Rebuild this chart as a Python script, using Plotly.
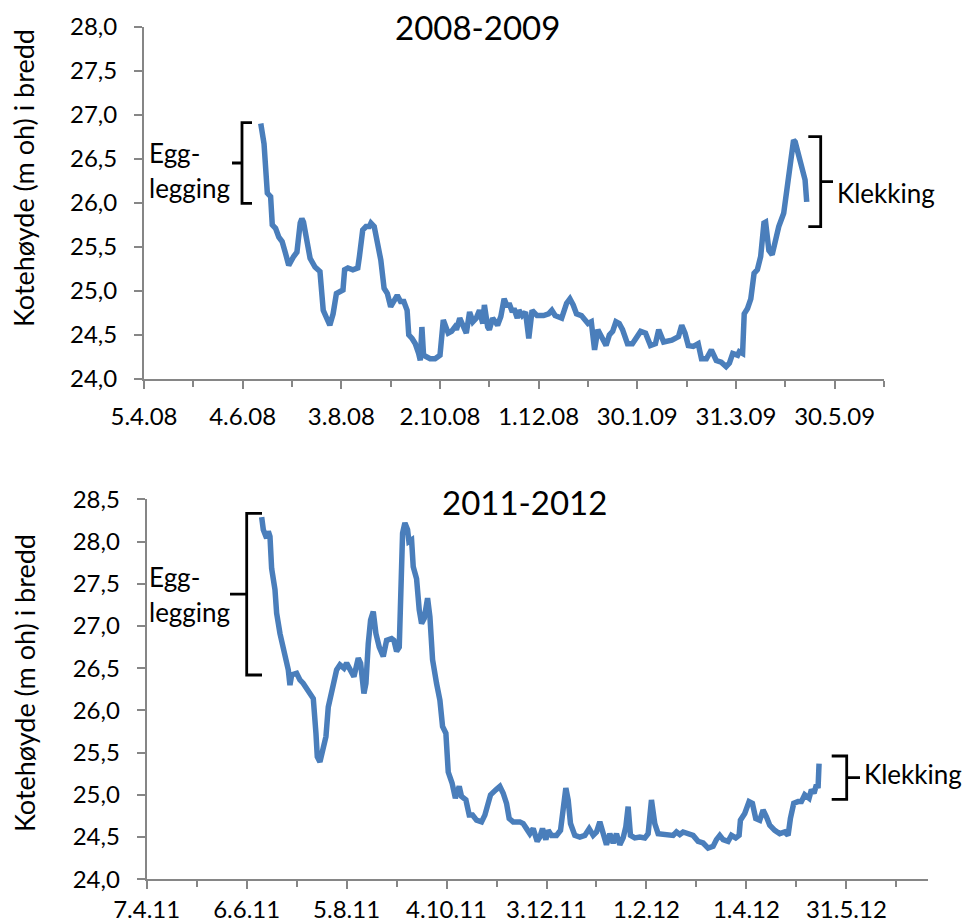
import pandas as pd
import plotly.graph_objects as go
from datetime import datetime, timedelta

# ---------------- data ----------------
start_0809 = "2008-04-05"
# days after 5.4.2008
days_0809 = [71, 73, 75, 77, 78, 80, 82, 84, 86, 88, 91, 93, 95, 96, 97, 99, 101, 104, 107, 109,
             111, 113, 115, 117, 119, 121, 122, 124, 127, 130, 131, 133, 135, 137, 138, 140, 142, 144,
             146, 148, 150, 152, 154, 156, 158, 160, 161, 163, 165, 167, 168, 169, 170, 174, 177, 180,
             182, 185, 187, 189, 190, 192, 196, 198, 200, 202, 204, 206, 207, 209, 210, 212, 215, 217,
             219, 221, 222, 224, 225, 227, 228, 230, 232, 234, 236, 239, 243, 246, 248, 250, 254, 257,
             259, 261, 263, 266, 268, 270, 272, 274, 276, 278, 281, 283, 285, 287, 289, 291, 294, 297,
             302, 305, 308, 311, 313, 316, 321, 325, 327, 329, 331, 334, 337, 339, 342, 345, 348, 351,
             354, 356, 358, 361, 362, 364, 365, 367, 369, 371, 373, 375, 377, 378, 380, 382, 384, 386,
             389, 390, 392, 395, 396, 398, 400, 402, 403]
level_0809 = [26.90, 26.67, 26.11, 26.07, 25.75, 25.71, 25.61, 25.56, 25.43, 25.29, 25.39, 25.44, 25.77,
              25.82, 25.78, 25.54, 25.37, 25.27, 25.22, 24.78, 24.69, 24.61, 24.74, 24.97, 24.99, 25.01,
              25.24, 25.26, 25.24, 25.26, 25.39, 25.69, 25.73, 25.73, 25.77, 25.73, 25.54, 25.35, 25.03,
              24.97, 24.82, 24.90, 24.95, 24.88, 24.88, 24.78, 24.50, 24.46, 24.40, 24.29, 24.21, 24.59,
              24.27, 24.23, 24.23, 24.27, 24.67, 24.52, 24.54, 24.59, 24.56, 24.69, 24.52, 24.76, 24.65,
              24.69, 24.78, 24.63, 24.84, 24.59, 24.56, 24.69, 24.61, 24.71, 24.91, 24.82, 24.86, 24.76,
              24.80, 24.69, 24.78, 24.72, 24.76, 24.46, 24.78, 24.72, 24.72, 24.74, 24.78, 24.72, 24.69,
              24.86, 24.91, 24.84, 24.74, 24.72, 24.67, 24.63, 24.65, 24.33, 24.56, 24.48, 24.38, 24.50,
              24.54, 24.65, 24.63, 24.56, 24.40, 24.40, 24.54, 24.52, 24.38, 24.40, 24.56, 24.42, 24.44,
              24.48, 24.61, 24.52, 24.38, 24.37, 24.40, 24.23, 24.23, 24.33, 24.21, 24.19, 24.14, 24.18,
              24.29, 24.27, 24.31, 24.29, 24.74, 24.80, 24.91, 25.20, 25.24, 25.39, 25.77, 25.78, 25.46,
              25.41, 25.61, 25.73, 25.88, 26.03, 26.33, 26.71, 26.69, 26.54, 26.45, 26.26, 26.01]

start_1112 = "2011-04-07"
# days after 7.4.2011
days_1112 = [69, 70, 72, 73, 74, 75, 77, 78, 80, 82, 83, 85, 86, 87, 90, 92, 94, 96, 98, 100, 101.6,
             102.4, 104, 106, 107.6, 109, 110, 112, 114, 116, 118.4, 120, 122, 124.4, 127, 128.4, 130.4,
             131.6, 133, 134.4, 136, 137.6, 139.6, 142, 144, 147, 148.4, 150, 151.6, 153, 153.6, 155,
             156.6, 157.4, 159, 160, 162, 163.6, 165, 166.6, 168.6, 170, 171.6, 174, 176, 177.6, 179.6,
             181, 183.3, 185.3, 187.6, 189, 191.6, 193.6, 195.6, 198, 201, 203, 205, 206.4, 209.6, 212,
             214, 216, 217.6, 220, 224, 226, 228, 230, 232, 234.4, 236, 237.6, 239.6, 241, 243, 246,
             248.4, 250, 251.6, 253, 254.4, 257, 260, 263, 265.6, 268, 270, 272, 274, 276, 278, 280,
             282, 284, 286, 287.6, 289, 290.4, 293, 296, 299, 301, 303, 305, 307, 312, 316, 318, 320,
             322, 325, 328, 331, 334, 337, 340, 342, 344, 346, 349, 351, 353.6, 355.6, 356.4, 359,
             361.6, 363.6, 365.6, 368, 370, 372, 374, 377, 380, 383, 385, 386.4, 388.4, 391, 393, 395,
             397.6, 399, 400.6, 402, 403, 403.6]
level_1112 = [28.29, 28.14, 28.04, 28.12, 28.06, 27.68, 27.43, 27.15, 26.91, 26.75, 26.64, 26.48, 26.30,
              26.42, 26.44, 26.36, 26.32, 26.26, 26.22, 26.14, 25.73, 25.45, 25.39, 25.53, 25.69, 26.04,
              26.12, 26.32, 26.48, 26.54, 26.50, 26.56, 26.50, 26.40, 26.62, 26.56, 26.20, 26.32, 26.79,
              27.07, 27.17, 26.91, 26.75, 26.64, 26.83, 26.85, 26.83, 26.70, 26.75, 27.43, 28.10, 28.22,
              28.14, 28.00, 28.02, 27.70, 27.56, 27.19, 27.03, 27.09, 27.33, 27.11, 26.60, 26.32, 26.12,
              25.81, 25.73, 25.27, 25.14, 24.96, 25.10, 24.98, 24.94, 24.76, 24.76, 24.70, 24.68, 24.76,
              24.88, 25.00, 25.06, 25.10, 25.02, 24.90, 24.72, 24.68, 24.68, 24.66, 24.60, 24.54, 24.60,
              24.45, 24.50, 24.60, 24.47, 24.58, 24.52, 24.52, 24.58, 24.78, 25.08, 24.94, 24.66, 24.52,
              24.50, 24.52, 24.60, 24.52, 24.56, 24.68, 24.54, 24.41, 24.54, 24.43, 24.54, 24.41, 24.49,
              24.62, 24.86, 24.52, 24.49, 24.50, 24.49, 24.54, 24.94, 24.66, 24.54, 24.52, 24.52, 24.56,
              24.53, 24.56, 24.54, 24.52, 24.45, 24.43, 24.37, 24.39, 24.47, 24.52, 24.47, 24.45, 24.52,
              24.49, 24.52, 24.70, 24.78, 24.92, 24.90, 24.72, 24.70, 24.82, 24.74, 24.64, 24.58, 24.54,
              24.56, 24.52, 24.72, 24.90, 24.92, 24.92, 25.00, 24.96, 25.06, 25.02, 25.12, 25.08, 25.37]

xticks_0809 = ["5.4.08", "4.6.08", "3.8.08", "2.10.08", "1.12.08", "30.1.09", "31.3.09", "30.5.09"]
xticks_1112 = ["7.4.11", "6.6.11", "5.8.11", "4.10.11", "3.12.11", "1.2.12", "1.4.12", "31.5.12"]
yticks_0809 = [24.0, 24.5, 25.0, 25.5, 26.0, 26.5, 27.0, 27.5, 28.0]
yticks_1112 = [24.0, 24.5, 25.0, 25.5, 26.0, 26.5, 27.0, 27.5, 28.0, 28.5]

titles = ["2008-2009", "2011-2012"]
ytitle = "Kotehøyde (m oh) i bredd"

# ---------------- layout helpers ----------------
W, H = 966, 924
FONT = "Lato"
LINE = "#4A7EBB"
AXC = "#868686"


def px(x, y):
    return x / W, 1 - y / H


def to_dates(start, days):
    return pd.to_datetime(start) + pd.to_timedelta(days, unit="D")


def label_dates(labels):
    return [datetime.strptime(s, "%d.%m.%y") for s in labels]


fig = go.Figure()
fig.add_trace(go.Scatter(x=to_dates(start_0809, days_0809), y=level_0809, mode="lines",
                         line=dict(color=LINE, width=5.5), xaxis="x", yaxis="y", showlegend=False))
fig.add_trace(go.Scatter(x=to_dates(start_1112, days_1112), y=level_1112, mode="lines",
                         line=dict(color=LINE, width=5.5), xaxis="x2", yaxis="y2", showlegend=False))


def xaxis(labels, rng_end, dom, anchor, standoff):
    major = label_dates(labels)
    minor = [d + timedelta(days=30) for d in major]
    return dict(domain=dom, anchor=anchor, type="date", automargin=False,
                range=[major[0], rng_end],
                tickmode="array", tickvals=major, ticktext=labels,
                ticks="outside", ticklen=8, tickwidth=2, tickcolor=AXC,
                minor=dict(tickvals=minor, ticks="outside", ticklen=6, tickwidth=2, tickcolor=AXC),
                showline=True, linecolor=AXC, linewidth=2, showgrid=False, zeroline=False,
                tickfont=dict(family=FONT, size=24, color="black"), ticklabelstandoff=standoff)


def yaxis(vals, dom, anchor):
    return dict(domain=dom, anchor=anchor, range=[vals[0], vals[-1]], automargin=False,
                tickmode="array", tickvals=vals, tickformat=".1f",
                ticks="outside", ticklen=8, tickwidth=2, tickcolor=AXC,
                showline=True, linecolor=AXC, linewidth=2, showgrid=False, zeroline=False,
                tickfont=dict(family=FONT, size=24, color="black"), ticklabelstandoff=12)


x0a, y1a = px(144, 26.5)
x1a, y0a = px(884, 379)
x0b, y1b = px(146.7, 499.3)
x1b, y0b = px(928, 879.3)

fig.update_layout(
    width=W, height=H, margin=dict(l=0, r=0, t=0, b=0),
    paper_bgcolor="white", plot_bgcolor="white", separators=",.",
    font=dict(family=FONT, color="black"),
    xaxis=xaxis(xticks_0809, "2009-06-29", [x0a, x1a], "y", 7),
    yaxis=yaxis(yticks_0809, [y0a, y1a], "x"),
    xaxis2=xaxis(xticks_1112, "2012-07-19", [x0b, x1b], "y2", 0),
    yaxis2=yaxis(yticks_1112, [y0b, y1b], "x2"),
)

ann = []


def text(x, y, s, size, anchor="left", angle=0):
    X, Y = px(x, y)
    ann.append(dict(x=X, y=Y, xref="paper", yref="paper", text=s, showarrow=False,
                    xanchor=anchor, yanchor="middle", textangle=angle,
                    font=dict(family=FONT, size=size, color="black")))


text(477, 27, titles[0], 33, "center")
text(524, 502, titles[1], 33, "center")
text(24, 178, ytitle, 27, "center", -90)
text(24, 683, ytitle, 27, "center", -90)
text(147, 153, "Egg-", 26)
text(147, 188, "legging", 26)
text(147, 577, "Egg-", 26)
text(147, 612, "legging", 26)
text(835, 193, "Klekking", 26)
text(862, 774, "Klekking", 26)
fig.update_layout(annotations=ann)


def bracket(xv, ytop, ybot, xserif, xnub):
    ym = (ytop + ybot) / 2
    a, b = px(xserif, ytop)
    c, d = px(xv, ytop)
    e, f = px(xv, ybot)
    g, h = px(xserif, ybot)
    i, j = px(xv, ym)
    k, l = px(xnub, ym)
    path = f"M{a},{b} L{c},{d} L{e},{f} L{g},{h} M{i},{j} L{k},{l}"
    return dict(type="path", path=path, xref="paper", yref="paper",
                line=dict(color="black", width=2.8))


fig.update_layout(shapes=[
    bracket(242, 122.7, 203.3, 252, 232),
    bracket(820.7, 136.7, 226.7, 808.3, 833),
    bracket(246.7, 513.3, 675, 262, 230),
    bracket(846.7, 756, 799.3, 831.7, 860),
])

# remove the default 8px page margin so the figure fills the 966x924 window exactly
fig.write_html("out.html", config={"displayModeBar": False},
               post_script="document.body.style.margin='0px';")
